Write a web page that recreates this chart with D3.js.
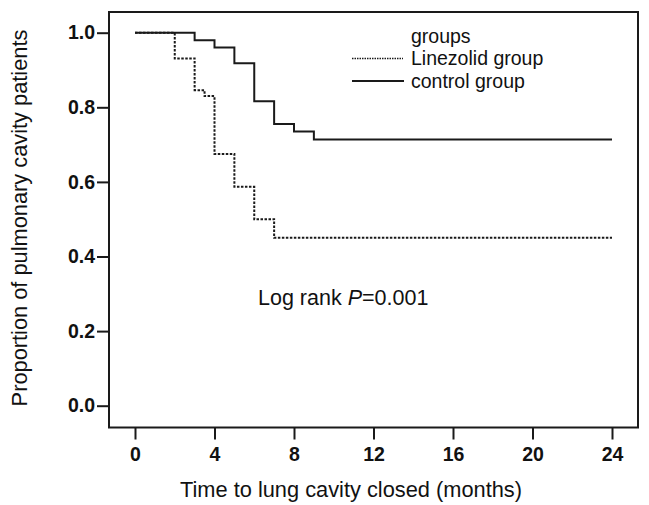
<!DOCTYPE html>
<html><head><meta charset="utf-8">
<script src="https://cdn.jsdelivr.net/npm/d3@7"></script>
<style>body{margin:0;background:#fff}svg{display:block}text{font-family:"Liberation Sans",Arial,sans-serif;fill:#111}</style>
</head><body>
<script>
const controlTimes = [0, 3, 4, 5, 6, 7, 8, 9, 24];
const controlValues = [1, 0.98, 0.96, 0.918, 0.816, 0.755, 0.735, 0.714, 0.714];
const linezolidTimes = [0, 2, 3, 3.5, 4, 5, 6, 7, 24];
const linezolidValues = [1, 0.931, 0.846, 0.83, 0.675, 0.587, 0.5, 0.45, 0.45];
const xTicks = [0, 4, 8, 12, 16, 20, 24];
const yTicks = [0, 0.2, 0.4, 0.6, 0.8, 1.0];
const seriesNames = ["Linezolid group", "control group"];

const W = 649, H = 505;
const svg = d3.select("body").append("svg").attr("width", W).attr("height", H);
const frame = {l: 109, r: 638, t: 12, b: 427.5};
const x = d3.scaleLinear().domain([0, 24]).range([135, 612]);
const y = d3.scaleLinear().domain([0, 1]).range([405.7, 32.7]);
const FF = '"Liberation Sans", Arial, sans-serif';

svg.append("rect").attr("x", frame.l).attr("y", frame.t)
  .attr("width", frame.r - frame.l).attr("height", frame.b - frame.t)
  .attr("fill", "none").attr("stroke", "#1a1a1a").attr("stroke-width", 2);

// x axis
const xAxis = d3.axisBottom(x).tickValues(xTicks).tickFormat(d3.format("d")).tickSize(12).tickPadding(8);
const gx = svg.append("g").attr("transform", `translate(0,${frame.b})`).call(xAxis);
gx.select(".domain").remove();
gx.selectAll("line").attr("stroke", "#1a1a1a").attr("stroke-width", 2);
gx.selectAll("text").attr("font-size", 19.5).attr("font-weight", "bold").attr("fill", "#111")
  .style("font-family", FF);

// y axis
const yAxis = d3.axisLeft(y).tickValues(yTicks).tickFormat(d3.format(".1f")).tickSize(12).tickPadding(2);
const gy = svg.append("g").attr("transform", `translate(${frame.l},0)`).call(yAxis);
gy.select(".domain").remove();
gy.selectAll("line").attr("stroke", "#1a1a1a").attr("stroke-width", 2);
gy.selectAll("text").attr("font-size", 19.5).attr("font-weight", "bold").attr("fill", "#111")
  .style("font-family", FF);

// curves
const line = d3.line().x(d => x(d[0])).y(d => y(d[1])).curve(d3.curveStepAfter);
const lz = d3.zip(linezolidTimes, linezolidValues);
const ct = d3.zip(controlTimes, controlValues);
svg.append("path").datum(ct).attr("d", line).attr("fill", "none")
  .attr("stroke", "#1a1a1a").attr("stroke-width", 2);
svg.append("path").datum(lz).attr("d", line).attr("fill", "none")
  .attr("stroke", "#1a1a1a").attr("stroke-width", 2).attr("stroke-dasharray", "2.5,1.5");

// legend
const lg = svg.append("g");
lg.append("text").attr("x", 411).attr("y", 43).attr("font-size", 19.5).text("groups");
lg.append("line").attr("x1", 352).attr("x2", 403).attr("y1", 58.5).attr("y2", 58.5)
  .attr("stroke", "#1a1a1a").attr("stroke-width", 1.3).attr("stroke-dasharray", "1.5,1");
lg.append("text").attr("x", 411).attr("y", 65).attr("font-size", 19.5).text(seriesNames[0]);
lg.append("line").attr("x1", 352).attr("x2", 404).attr("y1", 81).attr("y2", 81)
  .attr("stroke", "#1a1a1a").attr("stroke-width", 2);
lg.append("text").attr("x", 411).attr("y", 87.5).attr("font-size", 19.5).text(seriesNames[1]);

// annotation
const ann = svg.append("text").attr("x", 258).attr("y", 305).attr("font-size", 21.5);
ann.append("tspan").text("Log rank ");
ann.append("tspan").attr("font-style", "italic").text("P");
ann.append("tspan").text("=0.001");

// axis titles
svg.append("text").attr("x", 351).attr("y", 497).attr("text-anchor", "middle")
  .attr("font-size", 21.8).text("Time to lung cavity closed (months)");
svg.append("text").attr("transform", "translate(27,218) rotate(-90)").attr("text-anchor", "middle")
  .attr("font-size", 21.8).text("Proportion of pulmonary cavity patients");
</script>
</body></html>
